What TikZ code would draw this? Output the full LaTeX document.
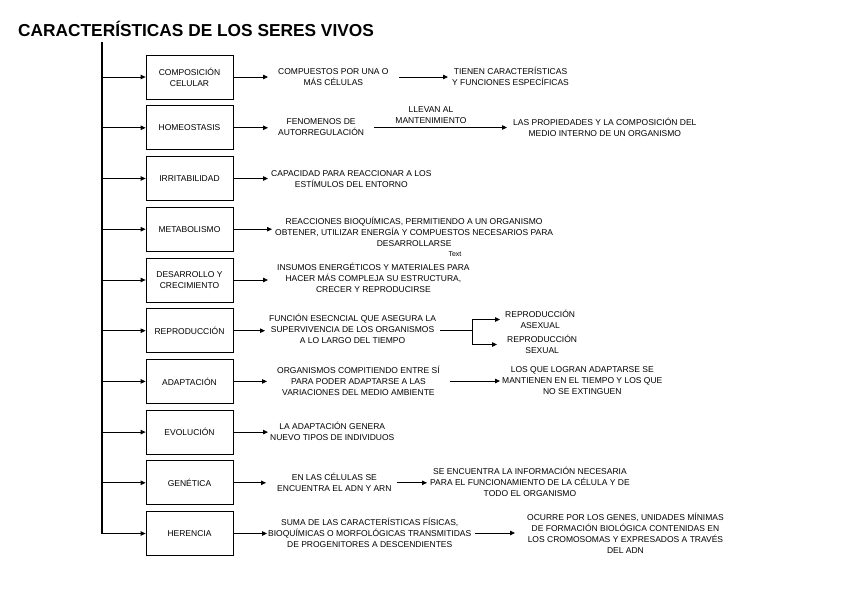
\documentclass[tikz,border=0pt]{standalone}
\usepackage{fontspec}
\setmainfont{Liberation Sans}
\usetikzlibrary{arrows.meta}
\begin{document}
\begin{tikzpicture}[x=1pt,y=-1pt,
  every node/.style={font=\fontsize{8.5}{10.9}\selectfont},
  box/.style={draw,line width=0.8pt,minimum width=87pt,minimum height=44pt,align=center,inner sep=0pt},
  txt/.style={align=center,anchor=west,inner ysep=0pt},
  arr/.style={line width=0.8pt,-{Triangle[length=5pt,width=4.5pt]}},
  ln/.style={line width=0.8pt}]
\useasboundingbox (0,0) rectangle (848,602);

% title
\node[anchor=base west,inner sep=0pt,font=\bfseries\fontsize{17.3}{20}\selectfont] (title) at (18,36.5) {CARACTERÍSTICAS DE LOS SERES VIVOS};

% boxes
\node[box] (b1) at (189.5,77) {COMPOSICIÓN\\CELULAR};
\node[box] (b2) at (189.5,127.8) {HOMEOSTASIS};
\node[box] (b3) at (189.5,178.5) {IRRITABILIDAD};
\node[box] (b4) at (189.5,229.2) {METABOLISMO};
\node[box] (b5) at (189.5,280) {DESARROLLO Y\\CRECIMIENTO};
\node[box] (b6) at (189.5,330.7) {REPRODUCCIÓN};
\node[box] (b7) at (189.5,381.4) {ADAPTACIÓN};
\node[box] (b8) at (189.5,432.1) {EVOLUCIÓN};
\node[box] (b9) at (189.5,482.8) {GENÉTICA};
\node[box] (b10) at (189.5,533.5) {HERENCIA};

% spine
\coordinate (top) at (102,42);
\draw[line width=1.4pt] (top) -- (top |- b10.west);
\foreach \i in {1,...,10}{
  \draw[arr] (b\i.west -| top) -- (b\i.west);
}

% row 1
\node[txt,inner xsep=10pt] (t1a) at (268,77) {COMPUESTOS POR UNA O\\MÁS CÉLULAS};
\node[txt,inner xsep=4pt] (t1b) at (448,76) {TIENEN CARACTERÍSTICAS\\Y FUNCIONES ESPECÍFICAS};
\draw[arr] (b1.east) -- (b1.east -| t1a.west);
\draw[arr] (t1a.east) -- (t1a.east -| t1b.west);

% row 2
\node[txt,inner xsep=10pt] (t2a) at (268,127.5) {FENOMENOS DE\\AUTORREGULACIÓN};
\node[txt,inner xsep=6pt] (t2b) at (507,127.5) {LAS PROPIEDADES Y LA COMPOSICIÓN DEL\\MEDIO INTERNO DE UN ORGANISMO};
\node[align=center,inner sep=0pt] (l2) at (431,115.5) {LLEVAN AL\\MANTENIMIENTO};
\draw[arr] (b2.east) -- (b2.east -| t2a.west);
\draw[arr] (t2a.east) -- (t2a.east -| t2b.west);

% row 3
\node[txt,inner xsep=3pt] (t3) at (268,179.5) {CAPACIDAD PARA REACCIONAR A LOS\\ESTÍMULOS DEL ENTORNO};
\draw[arr] (b3.east) -- (b3.east -| t3.west);

% row 4
\node[txt,inner xsep=3pt] (t4) at (272,232) {REACCIONES BIOQUÍMICAS, PERMITIENDO A UN ORGANISMO\\OBTENER, UTILIZAR ENERGÍA Y COMPUESTOS NECESARIOS PARA\\DESARROLLARSE};
\draw[arr] (b4.east) -- (b4.east -| t4.west);
\node[inner sep=0pt,font=\fontsize{7}{8}\selectfont] (stray) at (455,254) {Text};

% row 5
\node[txt,inner xsep=9pt] (t5) at (268,278) {INSUMOS ENERGÉTICOS Y MATERIALES PARA\\HACER MÁS COMPLEJA SU ESTRUCTURA,\\CRECER Y REPRODUCIRSE};
\draw[arr] (b5.east) -- (b5.east -| t5.west);

% row 6
\node[txt,inner xsep=4pt] (t6) at (265,329) {FUNCIÓN ESECNCIAL QUE ASEGURA LA\\SUPERVIVENCIA DE LOS ORGANISMOS\\A LO LARGO DEL TIEMPO};
\draw[arr] (b6.east) -- (b6.east -| t6.west);
\coordinate (j6) at (472,330);
\node[txt,inner xsep=5pt] (t6a) at (500,319.5) {REPRODUCCIÓN\\ASEXUAL};
\node[txt,inner xsep=10pt] (t6b) at (497,344.5) {REPRODUCCIÓN\\SEXUAL};
\draw[ln] (t6.east |- j6) -- (j6);
\draw[arr] (j6) |- (t6a.west);
\draw[arr] (j6) |- (t6b.west);

% row 7
\node[txt,inner xsep=10pt] (t7) at (267,381) {ORGANISMOS COMPITIENDO ENTRE SÍ\\PARA PODER ADAPTARSE A LAS\\VARIACIONES DEL MEDIO AMBIENTE};
\node[txt,inner xsep=2pt] (t7b) at (500,380.5) {LOS QUE LOGRAN ADAPTARSE SE\\MANTIENEN EN EL TIEMPO Y LOS QUE\\NO SE EXTINGUEN};
\draw[arr] (b7.east) -- (b7.east -| t7.west);
\draw[arr] (t7.east) -- (t7.east -| t7b.west);

% row 8
\node[txt,inner xsep=2pt] (t8) at (268,431.5) {LA ADAPTACIÓN GENERA\\NUEVO TIPOS DE INDIVIDUOS};
\draw[arr] (b8.east) -- (b8.east -| t8.west);

% row 9
\node[txt,inner xsep=5pt] (t9) at (272,482.5) {EN LAS CÉLULAS SE\\ENCUENTRA EL ADN Y ARN};
\node[txt,inner xsep=3pt] (t9b) at (427,482) {SE ENCUENTRA LA INFORMACIÓN NECESARIA\\PARA EL FUNCIONAMIENTO DE LA CÉLULA Y DE\\TODO EL ORGANISMO};
\draw[arr,shorten >=6pt] (b9.east) -- (b9.east -| t9.west);
\draw[arr] (t9.east |- b9.east) -- (t9b.west |- b9.east);

% row 10
\node[txt,inner xsep=1pt] (t10) at (267,533) {SUMA DE LAS CARACTERÍSTICAS FÍSICAS,\\BIOQUÍMICAS O MORFOLÓGICAS TRANSMITIDAS\\DE PROGENITORES A DESCENDIENTES};
\node[txt,inner xsep=12pt] (t10b) at (515,533.5) {OCURRE POR LOS GENES, UNIDADES MÍNIMAS\\DE FORMACIÓN BIOLÓGICA CONTENIDAS EN\\LOS CROMOSOMAS Y EXPRESADOS A TRAVÉS\\DEL ADN};
\draw[arr] (b10.east) -- (b10.east -| t10.west);
\draw[arr,shorten <=3pt] (t10.east) -- (t10.east -| t10b.west);
\end{tikzpicture}
\end{document}
